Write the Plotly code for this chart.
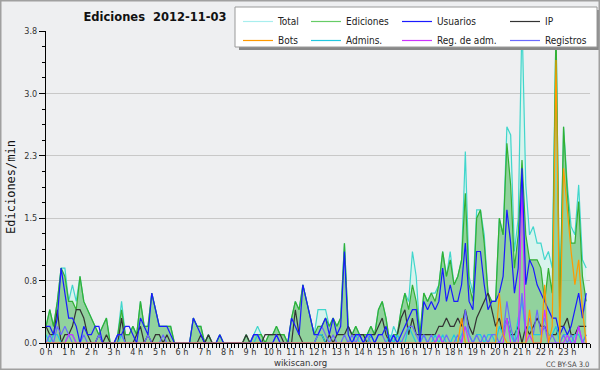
import plotly.graph_objects as go

# ---- time buckets (10-minute buckets over the day) ----
minutes = list(range(0, 1440, 10))
hours = [m / 60 for m in minutes]
hour_ticks = list(range(24))
hour_labels = [f"{h} h" for h in hour_ticks]
y_ticks = [0, 0.75, 1.5, 2.25, 3.0, 3.75]
y_labels = ["0.0", "0.8", "1.5", "2.3", "3.0", "3.8"]

# ---- series values (edits per minute), one row per hour ----
total = [
    0.2, 0.4, 0.2, 0.5, 0.9, 0.9,
    0.5, 0.7, 0.5, 0.8, 0.5, 0.4,
    0.3, 0.2, 0.1, 0.2, 0.3, 0.0,
    0.0, 0.1, 0.5, 0.1, 0.1, 0.2,
    0.1, 0.5, 0.2, 0.2, 0.6, 0.4,
    0.2, 0.2, 0.2, 0.2, 0.0, 0.0,
    0.0, 0.0, 0.0, 0.3, 0.2, 0.2,
    0.0, 0.1, 0.0, 0.0, 0.1, 0.0,
    0.0, 0.0, 0.0, 0.0, 0.0, 0.1,
    0.0, 0.1, 0.2, 0.1, 0.0, 0.1,
    0.1, 0.2, 0.1, 0.1, 0.0, 0.3,
    0.5, 0.4, 0.7, 0.5, 0.3, 0.1,
    0.4, 0.4, 0.4, 0.2, 0.3, 0.2,
    0.3, 1.2, 0.2, 0.1, 0.2, 0.1,
    0.1, 0.1, 0.2, 0.1, 0.4, 0.5,
    0.3, 0.0, 0.2, 0.1, 0.4, 0.6,
    0.5, 1.1, 0.8, 0.1, 0.6, 0.5,
    0.6, 0.6, 0.7, 1.1, 0.8, 1.1,
    0.7, 0.8, 1.0, 2.3, 0.8, 0.6,
    1.6, 1.6, 1.3, 0.6, 0.5, 0.5,
    1.5, 1.3, 2.6, 2.5, 1.1, 1.5,
    3.9, 1.9, 1.3, 1.4, 1.2, 1.2,
    1.0, 1.1, 0.9, 3.8, 0.4, 2.6,
    1.9, 1.4, 1.3, 1.9, 1.0, 0.9,
]
ediciones = [
    0.2, 0.4, 0.2, 0.5, 0.9, 0.8,
    0.5, 0.5, 0.4, 0.8, 0.5, 0.4,
    0.3, 0.2, 0.1, 0.2, 0.3, 0.0,
    0.0, 0.1, 0.4, 0.1, 0.1, 0.2,
    0.1, 0.5, 0.2, 0.2, 0.6, 0.4,
    0.2, 0.2, 0.2, 0.2, 0.0, 0.0,
    0.0, 0.0, 0.0, 0.3, 0.2, 0.2,
    0.0, 0.1, 0.0, 0.0, 0.1, 0.0,
    0.0, 0.0, 0.0, 0.0, 0.0, 0.1,
    0.0, 0.1, 0.1, 0.1, 0.0, 0.1,
    0.1, 0.2, 0.1, 0.1, 0.0, 0.3,
    0.5, 0.4, 0.7, 0.5, 0.3, 0.1,
    0.2, 0.2, 0.3, 0.2, 0.3, 0.2,
    0.3, 1.2, 0.2, 0.1, 0.2, 0.1,
    0.1, 0.1, 0.2, 0.1, 0.4, 0.5,
    0.3, 0.0, 0.1, 0.1, 0.4, 0.6,
    0.4, 0.7, 0.5, 0.1, 0.6, 0.5,
    0.6, 0.5, 0.7, 1.1, 0.8, 1.0,
    0.7, 0.8, 1.0, 1.8, 0.7, 0.5,
    1.5, 1.6, 1.2, 0.6, 0.5, 0.5,
    1.5, 1.3, 2.4, 1.9, 0.9, 1.3,
    2.2, 1.3, 1.0, 1.0, 1.0, 0.9,
    0.5, 0.9, 0.6, 3.8, 0.3, 2.6,
    1.8, 1.2, 1.2, 1.7, 0.8, 0.5,
]
usuarios = [
    0.2, 0.2, 0.1, 0.3, 0.9, 0.6,
    0.3, 0.3, 0.2, 0.0, 0.2, 0.1,
    0.1, 0.2, 0.2, 0.0, 0.0, 0.0,
    0.0, 0.1, 0.1, 0.2, 0.2, 0.1,
    0.0, 0.3, 0.2, 0.1, 0.6, 0.4,
    0.2, 0.2, 0.2, 0.1, 0.0, 0.0,
    0.0, 0.0, 0.0, 0.3, 0.2, 0.1,
    0.0, 0.0, 0.0, 0.0, 0.1, 0.0,
    0.0, 0.0, 0.0, 0.0, 0.0, 0.0,
    0.0, 0.1, 0.1, 0.0, 0.0, 0.0,
    0.0, 0.1, 0.0, 0.0, 0.0, 0.3,
    0.2, 0.1, 0.7, 0.5, 0.3, 0.1,
    0.1, 0.2, 0.3, 0.1, 0.3, 0.1,
    0.2, 1.1, 0.1, 0.0, 0.1, 0.1,
    0.0, 0.1, 0.1, 0.0, 0.1, 0.1,
    0.2, 0.0, 0.1, 0.0, 0.1, 0.2,
    0.3, 0.4, 0.4, 0.0, 0.5, 0.4,
    0.5, 0.4, 0.5, 0.9, 0.5, 0.7,
    0.5, 0.5, 0.7, 1.2, 0.5, 0.4,
    1.1, 1.1, 0.7, 0.4, 0.5, 0.5,
    0.6, 0.8, 1.6, 1.2, 0.6, 0.9,
    2.1, 0.7, 1.0, 0.9, 0.7, 0.6,
    0.5, 0.4, 0.3, 0.3, 0.1, 0.2,
    0.1, 0.2, 0.4, 0.6, 0.3, 0.6,
]
ip = [
    0.2, 0.1, 0.1, 0.4, 0.0, 0.1,
    0.1, 0.2, 0.4, 0.4, 0.3, 0.1,
    0.0, 0.0, 0.1, 0.0, 0.1, 0.0,
    0.0, 0.0, 0.3, 0.0, 0.0, 0.0,
    0.1, 0.2, 0.0, 0.1, 0.0, 0.1,
    0.1, 0.0, 0.1, 0.0, 0.0, 0.0,
    0.0, 0.0, 0.0, 0.0, 0.0, 0.1,
    0.0, 0.1, 0.0, 0.0, 0.0, 0.0,
    0.0, 0.0, 0.0, 0.0, 0.0, 0.1,
    0.0, 0.0, 0.0, 0.0, 0.1, 0.1,
    0.1, 0.1, 0.1, 0.0, 0.0, 0.0,
    0.4, 0.1, 0.0, 0.0, 0.0, 0.0,
    0.1, 0.1, 0.0, 0.1, 0.0, 0.1,
    0.1, 0.1, 0.2, 0.1, 0.1, 0.1,
    0.1, 0.0, 0.1, 0.1, 0.2, 0.3,
    0.1, 0.0, 0.0, 0.1, 0.3, 0.4,
    0.1, 0.3, 0.1, 0.1, 0.1, 0.1,
    0.1, 0.1, 0.2, 0.2, 0.3, 0.2,
    0.2, 0.3, 0.2, 0.4, 0.2, 0.1,
    0.3, 0.4, 0.5, 0.6, 0.4, 0.2,
    0.3, 0.1, 0.3, 0.1, 0.1, 0.2,
    0.0, 0.2, 0.1, 0.2, 0.3, 0.2,
    0.2, 0.1, 0.1, 0.1, 0.2, 0.2,
    0.3, 0.1, 0.1, 0.2, 0.2, 0.2,
]
bots = [
    0.0, 0.0, 0.0, 0.0, 0.0, 0.0,
    0.0, 0.0, 0.0, 0.0, 0.0, 0.0,
    0.0, 0.0, 0.0, 0.0, 0.0, 0.0,
    0.0, 0.0, 0.0, 0.0, 0.0, 0.0,
    0.0, 0.0, 0.0, 0.0, 0.0, 0.0,
    0.0, 0.0, 0.0, 0.0, 0.0, 0.0,
    0.0, 0.0, 0.0, 0.0, 0.0, 0.0,
    0.0, 0.0, 0.0, 0.0, 0.0, 0.0,
    0.0, 0.0, 0.0, 0.0, 0.0, 0.0,
    0.0, 0.0, 0.0, 0.0, 0.0, 0.0,
    0.0, 0.0, 0.0, 0.0, 0.0, 0.0,
    0.0, 0.0, 0.0, 0.0, 0.0, 0.0,
    0.0, 0.0, 0.0, 0.0, 0.0, 0.0,
    0.0, 0.0, 0.0, 0.0, 0.0, 0.0,
    0.0, 0.0, 0.0, 0.0, 0.0, 0.0,
    0.0, 0.0, 0.0, 0.0, 0.0, 0.0,
    0.0, 0.0, 0.0, 0.0, 0.0, 0.0,
    0.0, 0.0, 0.0, 0.0, 0.0, 0.0,
    0.0, 0.0, 0.3, 0.0, 0.0, 0.0,
    0.0, 0.0, 0.0, 0.0, 0.0, 0.0,
    0.6, 0.1, 0.0, 0.0, 0.0, 0.0,
    0.0, 0.0, 0.4, 0.0, 0.0, 0.0,
    0.7, 0.0, 0.2, 3.4, 0.0, 2.1,
    1.6, 1.1, 0.7, 1.0, 0.4, 0.0,
]
admins = [
    0.1, 0.0, 0.1, 0.1, 0.0, 0.0,
    0.1, 0.1, 0.0, 0.0, 0.0, 0.0,
    0.0, 0.0, 0.0, 0.0, 0.0, 0.0,
    0.0, 0.0, 0.1, 0.0, 0.0, 0.0,
    0.0, 0.0, 0.0, 0.0, 0.0, 0.0,
    0.0, 0.0, 0.0, 0.0, 0.0, 0.0,
    0.0, 0.0, 0.0, 0.0, 0.0, 0.0,
    0.0, 0.0, 0.0, 0.0, 0.0, 0.0,
    0.0, 0.0, 0.0, 0.0, 0.0, 0.0,
    0.0, 0.0, 0.1, 0.0, 0.0, 0.0,
    0.0, 0.0, 0.0, 0.0, 0.0, 0.0,
    0.0, 0.0, 0.0, 0.0, 0.0, 0.0,
    0.1, 0.1, 0.0, 0.0, 0.0, 0.0,
    0.0, 0.0, 0.0, 0.0, 0.1, 0.0,
    0.0, 0.0, 0.1, 0.0, 0.0, 0.0,
    0.0, 0.1, 0.0, 0.1, 0.0, 0.0,
    0.2, 0.1, 0.0, 0.0, 0.1, 0.0,
    0.0, 0.1, 0.0, 0.1, 0.0, 0.0,
    0.1, 0.0, 0.1, 0.2, 0.1, 0.0,
    0.1, 0.1, 0.0, 0.1, 0.1, 0.0,
    0.2, 0.1, 0.3, 0.1, 0.0, 0.3,
    0.5, 0.1, 0.2, 0.1, 0.1, 0.1,
    0.3, 0.1, 0.1, 0.2, 0.0, 0.1,
    0.1, 0.0, 0.1, 0.1, 0.0, 0.1,
]
reg_adm = [
    0.0, 0.0, 0.0, 0.0, 0.0, 0.0,
    0.1, 0.1, 0.0, 0.0, 0.0, 0.0,
    0.0, 0.0, 0.0, 0.0, 0.0, 0.0,
    0.0, 0.0, 0.0, 0.0, 0.0, 0.0,
    0.0, 0.0, 0.0, 0.0, 0.0, 0.0,
    0.0, 0.0, 0.0, 0.0, 0.0, 0.0,
    0.0, 0.0, 0.0, 0.0, 0.0, 0.0,
    0.0, 0.0, 0.0, 0.0, 0.0, 0.0,
    0.0, 0.0, 0.0, 0.0, 0.0, 0.0,
    0.0, 0.0, 0.0, 0.0, 0.0, 0.0,
    0.0, 0.0, 0.0, 0.0, 0.0, 0.0,
    0.0, 0.0, 0.0, 0.0, 0.0, 0.0,
    0.0, 0.0, 0.0, 0.0, 0.0, 0.0,
    0.0, 0.0, 0.0, 0.0, 0.0, 0.0,
    0.0, 0.0, 0.0, 0.0, 0.0, 0.0,
    0.0, 0.0, 0.0, 0.0, 0.0, 0.0,
    0.0, 0.0, 0.0, 0.0, 0.0, 0.0,
    0.0, 0.0, 0.1, 0.0, 0.0, 0.0,
    0.0, 0.0, 0.0, 0.2, 0.0, 0.0,
    0.0, 0.0, 0.0, 0.0, 0.0, 0.0,
    0.0, 0.0, 0.3, 0.0, 0.0, 0.0,
    1.9, 0.0, 0.1, 0.0, 0.0, 0.0,
    0.4, 0.0, 0.0, 0.0, 0.0, 0.0,
    0.1, 0.0, 0.0, 0.2, 0.0, 0.0,
]
registros = [
    0.0, 0.1, 0.0, 0.2, 0.1, 0.2,
    0.1, 0.0, 0.0, 0.0, 0.1, 0.0,
    0.0, 0.0, 0.1, 0.0, 0.0, 0.0,
    0.0, 0.1, 0.1, 0.0, 0.0, 0.0,
    0.0, 0.0, 0.0, 0.1, 0.0, 0.0,
    0.0, 0.1, 0.0, 0.0, 0.0, 0.0,
    0.0, 0.0, 0.0, 0.0, 0.0, 0.0,
    0.0, 0.0, 0.0, 0.0, 0.0, 0.0,
    0.0, 0.0, 0.0, 0.0, 0.0, 0.0,
    0.0, 0.1, 0.1, 0.0, 0.0, 0.0,
    0.0, 0.1, 0.0, 0.0, 0.0, 0.0,
    0.0, 0.0, 0.0, 0.0, 0.0, 0.0,
    0.1, 0.2, 0.1, 0.0, 0.1, 0.0,
    0.0, 0.1, 0.0, 0.1, 0.0, 0.1,
    0.0, 0.1, 0.0, 0.0, 0.1, 0.1,
    0.0, 0.0, 0.1, 0.0, 0.0, 0.1,
    0.2, 0.2, 0.1, 0.0, 0.1, 0.0,
    0.1, 0.0, 0.1, 0.0, 0.1, 0.0,
    0.0, 0.1, 0.0, 0.4, 0.1, 0.0,
    0.1, 0.0, 0.1, 0.0, 0.1, 0.1,
    0.0, 0.1, 0.5, 0.2, 0.0, 0.1,
    0.6, 0.1, 0.3, 0.1, 0.4, 0.1,
    0.2, 0.0, 0.1, 0.0, 0.0, 0.1,
    0.0, 0.1, 0.0, 0.2, 0.0, 0.1,
]

BG = "#eeeff1"
TICK_FONT = dict(family="DejaVu Sans Condensed, Liberation Sans Narrow, DejaVu Sans", size=9, color="#333")

# plot-area geometry (pixels) used to place layout decorations in paper coords
L, R, T, B = 46, 10, 31, 27
PW, PH = 600 - L - R, 370 - T - B


def px_x(px):
    return (px - L) / PW


def px_y(py):
    return (370 - B - py) / PH


fig = go.Figure()

# filled areas (no legend; legend uses line-only entries below)
fig.add_trace(go.Scatter(x=hours, y=total, mode="lines", fill="tozeroy",
                         line=dict(color="#40d6cc", width=1.2),
                         fillcolor="rgba(205,245,235,0.65)", showlegend=False, hoverinfo="skip"))
fig.add_trace(go.Scatter(x=hours, y=ediciones, mode="lines", fill="tozeroy",
                         line=dict(color="#33b033", width=1.2),
                         fillcolor="rgba(60,170,60,0.45)", showlegend=False, hoverinfo="skip"))

# legend-only entries for the filled series
fig.add_trace(go.Scatter(x=[None], y=[None], mode="lines", name="Total",
                         line=dict(color="#a8eeee", width=1.2), legend="legend", legendrank=1))
fig.add_trace(go.Scatter(x=[None], y=[None], mode="lines", name="Ediciones",
                         line=dict(color="#66cc66", width=1.2), legend="legend2", legendrank=1))

line_series = [
    ("IP", ip, "#333333", "legend4", 1),
    ("Admins.", admins, "#22c8e0", "legend2", 2),
    ("Registros", registros, "#6a6aff", "legend4", 2),
    ("Reg. de adm.", reg_adm, "#cc33ff", "legend3", 2),
    ("Usuarios", usuarios, "#1a1aff", "legend3", 1),
    ("Bots", bots, "#ff9900", "legend", 2),
]
for name, vals, color, leg, rank in line_series:
    fig.add_trace(go.Scatter(x=hours, y=vals, mode="lines", name=name,
                             line=dict(color=color, width=1.2),
                             legend=leg, legendrank=rank))

leg_common = dict(yanchor="top", xanchor="left", y=px_y(7),
                  bgcolor="rgba(0,0,0,0)", borderwidth=0,
                  font=dict(family="DejaVu Sans Condensed, DejaVu Sans", size=10, color="#222"),
                  itemwidth=30, tracegroupgap=0)

fig.update_layout(
    width=600, height=370,
    margin=dict(l=L, r=R, t=T, b=B, autoexpand=False),
    paper_bgcolor=BG, plot_bgcolor=BG,
    title=dict(text="Ediciones  2012-11-03", x=155 / 600, xanchor="center",
               y=1 - 17 / 370, yanchor="middle", xref="container", yref="container",
               font=dict(family="DejaVu Sans", size=11.5, color="#111", weight="bold")),
    legend=dict(x=px_x(238), **leg_common),
    legend2=dict(x=px_x(306), **leg_common),
    legend3=dict(x=px_x(397), **leg_common),
    legend4=dict(x=px_x(505), **leg_common),
    xaxis=dict(range=[0, 24], tickmode="array", tickvals=hour_ticks, ticktext=hour_labels,
               ticks="outside", ticklen=4, tickcolor="#000", tickfont=TICK_FONT,
               ticklabelstandoff=-4,
               showline=True, linecolor="#000", linewidth=1, showgrid=False, zeroline=False,
               automargin=False,
               minor=dict(dtick=1 / 6, tick0=0, ticks="outside", ticklen=4, tickcolor="#000")),
    yaxis=dict(range=[0, 3.75], tickmode="array", tickvals=y_ticks, ticktext=y_labels,
               ticks="outside", ticklen=6, tickcolor="#000", tickfont=TICK_FONT,
               showline=True, linecolor="#000", linewidth=1, automargin=False,
               showgrid=True, gridcolor="#c8c8c8", gridwidth=1, zeroline=False,
               title=dict(text="Ediciones/min", standoff=6,
                          font=dict(family="DejaVu Sans Mono", size=12, color="#111")),
               minor=dict(dtick=0.1875, tick0=0, ticks="outside", ticklen=3, tickcolor="#000",
                          showgrid=False)),
    annotations=[
        dict(text="wikiscan.org", xref="paper", yref="paper", x=px_x(300), y=px_y(362),
             xanchor="center", yanchor="middle", showarrow=False,
             font=dict(family="DejaVu Sans Condensed, DejaVu Sans", size=9.5, color="#333")),
        dict(text="CC BY-SA 3.0", xref="paper", yref="paper", x=px_x(591), y=px_y(364),
             xanchor="right", yanchor="middle", showarrow=False,
             font=dict(family="DejaVu Sans Condensed, DejaVu Sans", size=7.5, color="#444")),
    ],
    shapes=[
        # legend shadow + box
        dict(type="rect", xref="paper", yref="paper",
             x0=px_x(239), x1=px_x(600), y0=px_y(50), y1=px_y(10),
             fillcolor="#888", line=dict(width=0), layer="above"),
        dict(type="rect", xref="paper", yref="paper",
             x0=px_x(235), x1=px_x(597), y0=px_y(47), y1=px_y(7),
             fillcolor="#ffffff", line=dict(color="#999", width=1), layer="above"),
        # outer frame
        dict(type="rect", xref="paper", yref="paper",
             x0=px_x(0.75), x1=px_x(599.25), y0=px_y(369.25), y1=px_y(0.75),
             fillcolor="rgba(0,0,0,0)", line=dict(color="#a0a0a0", width=1.5), layer="above"),
    ],
)

fig.write_html("out.html", config={"displayModeBar": False},
               post_script="document.body.style.margin='0px';document.body.style.padding='0px';")
